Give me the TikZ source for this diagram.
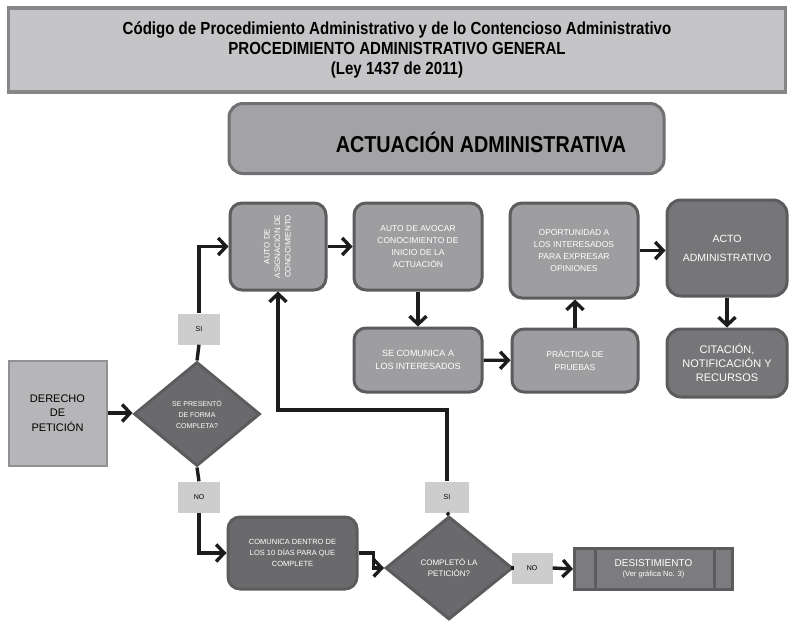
\documentclass[tikz,border=0pt]{standalone}
\usepackage{fontspec}
\setmainfont{Liberation Sans}
\newfontfamily\narrowfont[FakeStretch=0.86]{Liberation Sans}
\usetikzlibrary{shapes.geometric, arrows.meta, positioning, calc}
\definecolor{cTitle}{RGB}{197,197,199}
\definecolor{cTitleEdge}{RGB}{135,135,137}
\definecolor{cHead}{RGB}{163,163,165}
\definecolor{cHeadEdge}{RGB}{112,112,114}
\definecolor{cBox}{RGB}{158,158,160}
\definecolor{cDark}{RGB}{118,118,120}
\definecolor{cDeep}{RGB}{106,106,108}
\definecolor{cEdge}{RGB}{92,92,94}
\definecolor{cStart}{RGB}{182,182,184}
\definecolor{cStartEdge}{RGB}{145,145,147}
\definecolor{cTag}{RGB}{205,205,205}
\definecolor{cLine}{RGB}{28,28,28}
\tikzset{
	paso/.style     ={rectangle, rounded corners=12pt, draw=cEdge, line width=3pt, fill=cBox, text=white, align=center, inner sep=2pt},
	pasoosc/.style  ={paso, fill=cDark, rounded corners=14pt},
	decision/.style ={diamond, draw=cEdge, line width=3pt, fill=cDeep, text=white, align=center, inner sep=0pt},
	etiqueta/.style ={rectangle, fill=cTag, minimum width=42pt, minimum height=31pt, font=\fontsize{7}{8}\selectfont},
	flecha/.style   ={-{Straight Barb[length=8pt, width=17pt]}, line width=3.4pt, draw=cLine},
	linea/.style    ={line width=3.4pt, draw=cLine},
}

\begin{document}
\begin{tikzpicture}[x=1pt, y=-1pt]
	\useasboundingbox (0,0) rectangle (791,621);
	% encabezados
	\node[rectangle, draw=cTitleEdge, line width=3.5pt, fill=cTitle, minimum width=777pt, minimum height=84pt, align=center,
		font=\narrowfont\bfseries\fontsize{17.5}{20}\selectfont] (titulo) at (397,50)
		{Código de Procedimiento Administrativo y de lo Contencioso Administrativo\\ PROCEDIMIENTO ADMINISTRATIVO GENERAL\\ (Ley 1437 de 2011)};
	\node[rectangle, rounded corners=14pt, draw=cHeadEdge, line width=3pt, fill=cHead, minimum width=435pt, minimum height=70pt] (actuacion) at (446.5,138.5) {};
	\node[font=\narrowfont\bfseries\fontsize{23}{28}\selectfont] (actuaciontxt) at (481,142) {ACTUACIÓN ADMINISTRATIVA};
	% fila superior
	\node[paso, minimum width=96pt, minimum height=87pt, font=\fontsize{8}{10.5}\selectfont] (asig) at (278,246.5)
		{\rotatebox{90}{\begin{tabular}{@{}c@{}}AUTO DE\\ ASIGNACIÓN DE\\ CONOCIMIENTO\end{tabular}}};
	\node[paso, minimum width=128pt, minimum height=87pt, font=\fontsize{8.5}{12}\selectfont] (avocar) at (418,246.5)
		{AUTO DE AVOCAR\\ CONOCIMIENTO DE\\ INICIO DE LA\\ ACTUACIÓN};
	\node[paso, minimum width=128pt, minimum height=95pt, font=\fontsize{8.5}{12}\selectfont] (oport) at (574,250.5)
		{OPORTUNIDAD A\\ LOS INTERESADOS\\ PARA EXPRESAR\\ OPINIONES};
	\node[pasoosc, minimum width=120pt, minimum height=96pt, font=\fontsize{10.5}{19}\selectfont] (acto) at (727,248)
		{ACTO\\ ADMINISTRATIVO};
	% fila media
	\node[paso, minimum width=128pt, minimum height=64pt, font=\fontsize{9}{13.5}\selectfont] (comunica) at (418,360)
		{SE COMUNICA A\\ LOS INTERESADOS};
	\node[paso, minimum width=126pt, minimum height=63pt, font=\fontsize{8.5}{13}\selectfont] (practica) at (575,360.5)
		{PRÁCTICA DE\\ PRUEBAS};
	\node[pasoosc, minimum width=120pt, minimum height=68pt, font=\fontsize{11}{14}\selectfont] (citacion) at (727,363)
		{CITACIÓN,\\ NOTIFICACIÓN Y\\ RECURSOS};
	% inicio y decisiones
	\node[rectangle, draw=cStartEdge, line width=2pt, fill=cStart, minimum width=98pt, minimum height=105pt, align=center,
		font=\fontsize{11}{14.5}\selectfont] (derecho) at (57.5,413) {DERECHO\\ DE\\ PETICIÓN};
	\node[decision, minimum width=126pt, minimum height=104pt, font=\fontsize{7}{11}\selectfont] (presento) at (197,414)
		{SE PRESENTÓ\\ DE FORMA\\ COMPLETA?};
	\node[etiqueta] (si1) at (199,329) {SI};
	\node[etiqueta] (no1) at (199,497) {NO};
	\node[paso, fill=cDeep, minimum width=129pt, minimum height=72pt, font=\fontsize{7.5}{11}\selectfont] (dentro) at (292.5,553)
		{COMUNICA DENTRO DE\\ LOS 10 DÍAS PARA QUE\\ COMPLETE};
	\node[decision, minimum width=127pt, minimum height=103pt, font=\fontsize{8}{11}\selectfont] (completo) at (449,568)
		{COMPLETÓ LA\\ PETICIÓN?};
	\node[etiqueta, minimum width=44pt] (si2) at (447,497) {SI};
	\node[etiqueta, minimum width=41pt] (no2) at (532,568) {NO};
	\node[rectangle, draw=cEdge, line width=3pt, fill=cDark!85!cBox, minimum width=158pt, minimum height=41pt, align=center,
		text=white, font=\fontsize{10}{11}\selectfont] (desist) at (653.5,569)
		{DESISTIMIENTO\\[-1pt] {\fontsize{7.5}{9}\selectfont (Ver gráfica No. 3)}};
	\draw[cEdge, line width=3pt] ([xshift=22pt]desist.north west) -- ([xshift=22pt]desist.south west);
	\draw[cEdge, line width=3pt] ([xshift=-20pt]desist.north east) -- ([xshift=-20pt]desist.south east);
	% conectores
	\coordinate (giro) at (278,410);
	\draw[flecha] (derecho.east) -- (derecho.east -| presento.west);
	\draw[linea] (presento.north) -- (si1.south);
	\draw[flecha] (si1.north) |- (asig.west);
	\draw[linea] (presento.south) -- (no1.north);
	\draw[flecha] (no1.south) |- (dentro.west);
	\draw[flecha] (asig) -- (avocar);
	\draw[flecha] (avocar) -- (comunica);
	\draw[flecha] (comunica) -- (practica);
	\draw[flecha] (practica.north) -- (practica.north |- oport.south);
	\draw[flecha] (oport.east) -- (oport.east -| acto.west);
	\draw[flecha] (acto) -- (citacion);
	\draw[flecha] (dentro.east) -- ++(15,0) |- (completo.west);
	\draw[linea] (completo.north) -- (si2.south);
	\draw[flecha] (si2.north) |- (giro) -- (asig.south);
	\draw[linea] (completo.east) -- (no2.west);
	\draw[flecha] (no2.east) -- (desist.west);
\end{tikzpicture}
\end{document}
